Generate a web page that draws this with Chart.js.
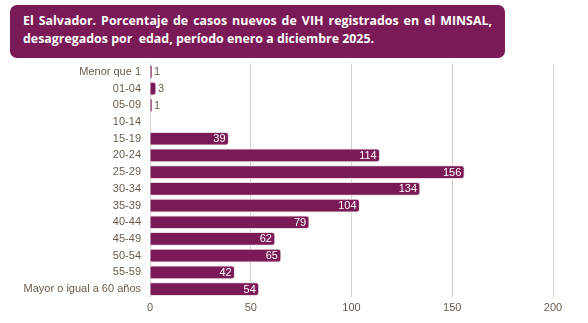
<!DOCTYPE html>
<html><head><meta charset="utf-8">
<script src="https://cdn.jsdelivr.net/npm/chart.js@4/dist/chart.umd.min.js"></script>
<style>
html,body{margin:0;padding:0;background:#fff;}
#wrap{position:relative;width:588px;height:323px;overflow:hidden;}
#title{position:absolute;left:10px;top:5px;width:469px;height:46px;background:#7A1A56;border-radius:7px;
 color:#fff;font-family:"Open Sans",sans-serif;font-weight:700;font-size:12.4px;line-height:18px;
 padding:7px 13px 0 13px;text-align:justify;text-align-last:left;}
#c{position:absolute;left:0;top:0;}
</style></head><body>
<div id="wrap">
<canvas id="c" width="588" height="323"></canvas>
<div id="title">El Salvador. Porcentaje de casos nuevos de VIH registrados en el MINSAL, desagregados por&nbsp; edad, período enero a diciembre 2025.</div>
</div>
<script>
const categories = ["Menor que 1","01-04","05-09","10-14","15-19","20-24","25-29","30-34","35-39","40-44","45-49","50-54","55-59","Mayor o igual a 60 años"];
const casos = [1,3,1,0,39,114,156,134,104,79,62,65,42,54];
const xTicks = [0,50,100,150,200];

const textColor = "#6B5A4C";
const barColor = "#7A1A56";
const fontFam = '"Liberation Sans", Arial, sans-serif';

const labelPlugin = {
  id:"barLabels",
  afterDatasetsDraw(chart){
    const ctx = chart.ctx;
    const meta = chart.getDatasetMeta(0);
    ctx.save();
    ctx.font = "11px " + fontFam;
    ctx.textBaseline = "middle";
    meta.data.forEach((bar,i)=>{
      const v = casos[i];
      if(!v) return;
      const txt = String(v);
      const w = ctx.measureText(txt).width;
      const len = bar.x - bar.base;
      if(len > w + 8){
        ctx.fillStyle = "#fff";
        ctx.textAlign = "right";
        ctx.fillText(txt, bar.x - 3, bar.y + 0.5);
      } else {
        ctx.fillStyle = textColor;
        ctx.textAlign = "left";
        ctx.fillText(txt, bar.x + 2, bar.y + 0.5);
      }
    });
    ctx.restore();
  }
};

new Chart(document.getElementById("c"),{
  type:"bar",
  data:{labels:categories,datasets:[{data:casos,backgroundColor:barColor,borderColor:"#EADCE3",borderWidth:1,borderRadius:3,borderSkipped:"start",barThickness:13}]},
  options:{
    indexAxis:"y",responsive:false,animation:false,
    layout:{padding:{top:63.6,right:35,left:0,bottom:0}},
    plugins:{legend:{display:false},tooltip:{enabled:false}},
    scales:{
      x:{min:0,max:200,afterBuildTicks(s){s.ticks=xTicks.map(v=>({value:v}));},
        grid:{color:"#D8D2CD",drawTicks:false},border:{display:false},
        ticks:{color:textColor,font:{family:fontFam,size:11},padding:4},
        afterFit(s){s.height=25.6;}},
      y:{grid:{display:false},border:{display:false},
        ticks:{color:textColor,font:{family:fontFam,size:11},padding:1,autoSkip:false},
        afterFit(s){s.width=150;}}
    }
  },
  plugins:[labelPlugin]
});
</script>
</body></html>
